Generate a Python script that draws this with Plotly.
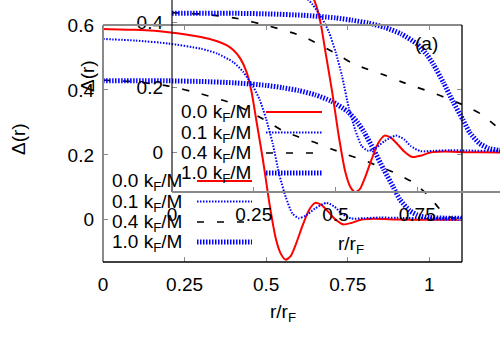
import plotly.graph_objects as go

# ---------------- data ----------------
r_red = [0, 0.1, 0.2, 0.3, 0.35, 0.38, 0.40, 0.42, 0.44, 0.455, 0.47, 0.49, 0.51, 0.53, 0.545,
         0.56, 0.575, 0.59, 0.61, 0.63, 0.65, 0.67, 0.69, 0.71, 0.735, 0.76, 0.79, 0.83, 0.9, 1.0, 1.1]
d_red = [0.588, 0.585, 0.578, 0.563, 0.55, 0.537, 0.522, 0.498, 0.455, 0.395, 0.305, 0.185, 0.05, -0.06, -0.105,
         -0.123, -0.112, -0.078, -0.022, 0.028, 0.052, 0.045, 0.025, 0.003, -0.014, -0.01, 0.0, 0.003, 0.001, 0.0, 0.0]

r_b01 = [0, 0.1, 0.2, 0.3, 0.35, 0.4, 0.43, 0.46, 0.48, 0.5, 0.52, 0.54, 0.56, 0.58, 0.6,
         0.62, 0.65, 0.685, 0.71, 0.73, 0.76, 0.8, 0.85, 0.9, 1.0, 1.1]
d_b01 = [0.557, 0.552, 0.543, 0.527, 0.512, 0.485, 0.455, 0.41, 0.37, 0.31, 0.235, 0.14, 0.07, 0.02, 0.005,
         0.012, 0.035, 0.052, 0.04, 0.02, 0.004, 0.005, 0.007, 0.006, 0.005, 0.005]

r_k04 = [0, 0.1, 0.2, 0.3, 0.4, 0.5, 0.55, 0.6, 0.65, 0.7, 0.75, 0.8, 0.85, 0.9, 0.95, 1.0, 1.03, 1.06, 1.1]
d_k04 = [0.43, 0.425, 0.412, 0.388, 0.357, 0.305, 0.275, 0.255, 0.238, 0.218, 0.2, 0.183, 0.163, 0.142, 0.115,
         0.072, 0.035, 0.01, 0.0]

r_b10 = [0, 0.2, 0.3, 0.4, 0.5, 0.55, 0.6, 0.65, 0.7, 0.75, 0.78, 0.8, 0.83, 0.86, 0.89, 0.91, 0.94, 0.97, 1.0, 1.05, 1.1]
d_b10 = [0.428, 0.428, 0.426, 0.422, 0.414, 0.407, 0.398, 0.385, 0.365, 0.333, 0.3, 0.27, 0.215, 0.155, 0.1,
         0.062, 0.028, 0.012, 0.007, 0.005, 0.005]

labels = ["0.0 k<sub>F</sub>/M", "0.1 k<sub>F</sub>/M", "0.4 k<sub>F</sub>/M", "1.0 k<sub>F</sub>/M"]
x_ticks = [0, 0.25, 0.5, 0.75, 1]
x_ticktext = ["0", "0.25", "0.5", "0.75", "1"]
y_ticks = [0, 0.2, 0.4, 0.6]
y_ticktext = ["0", "0.2", "0.4", "0.6"]

# ---------------- styles ----------------
FONT = "Liberation Sans, Arial, sans-serif"
FS = 19
W, H = 500, 350
styles = [
    dict(color="#ff0000", width=2, dash="solid"),
    dict(color="#0000ff", width=2, dash="1.5px,1.5px"),
    dict(color="#000000", width=1.7, dash="7px,13px"),
    dict(color="#0000ff", width=5, dash="1.5px,1.5px"),
]
series = [(r_red, d_red), (r_b01, d_b01), (r_k04, d_k04), (r_b10, d_b10)]

def px(x):
    return x / W

def py(y):
    return 1 - y / H

fig = go.Figure()
for (xs, ys), st, lab in zip(series, styles, labels):
    fig.add_trace(go.Scatter(x=xs, y=ys, mode="lines", line=dict(st, shape="spline", smoothing=0.6),
                             name=lab, xaxis="x", yaxis="y", showlegend=False))
for (xs, ys), st, lab in zip(series, styles, labels):
    fig.add_trace(go.Scatter(x=xs, y=ys, mode="lines", line=dict(st, shape="spline", smoothing=0.6),
                             name=lab, xaxis="x2", yaxis="y2", showlegend=False))

GREY = "#8a8a8a"
axis_common = dict(showgrid=False, zeroline=False, showline=False, ticks="inside", ticklen=5,
                   tickwidth=1, tickcolor=GREY, automargin=False,
                   tickfont=dict(family=FONT, size=FS, color="black"))

fig.update_layout(
    width=W, height=H, autosize=False,
    margin=dict(l=0, r=0, t=0, b=0, autoexpand=False),
    paper_bgcolor="white", plot_bgcolor="rgba(0,0,0,0)",
    showlegend=False,
    xaxis=dict(axis_common, domain=[px(103), px(462)], range=[0, 1.1], anchor="y",
               tickvals=x_ticks, ticktext=x_ticktext, mirror="ticks", ticklabelstandoff=9),
    yaxis=dict(axis_common, domain=[py(262), py(25)], range=[-0.13, 0.6], anchor="x",
               tickvals=y_ticks, ticktext=y_ticktext, mirror="ticks", ticklabelstandoff=8),
    xaxis2=dict(axis_common, domain=[px(172), 1.0], range=[0, 1.003], anchor="y2",
                tickvals=x_ticks, ticktext=x_ticktext, ticklabelstandoff=9),
    yaxis2=dict(axis_common, domain=[py(192), 1.0], range=[-0.1215, 0.469], anchor="x2",
                tickvals=y_ticks, ticktext=y_ticktext, ticklabelstandoff=8),
)

shapes = []
def seg(x0, y0, x1, y1, color, width, dash="solid"):
    shapes.append(dict(type="line", xref="paper", yref="paper", x0=px(x0), y0=py(y0), x1=px(x1), y1=py(y1),
                       line=dict(color=color, width=width, dash=dash), layer="above"))

# main frame
seg(103, 25, 103, 262, GREY, 2)
seg(103, 25, 462, 25, GREY, 2)
seg(462, 25, 462, 262, "black", 1.3)
seg(103, 262, 462, 262, "black", 1.3)
# inset frame
seg(172, 0, 172, 192, "black", 1.1)
seg(172, 192, 500, 192, GREY, 2)

annotations = []
def text(x, y, s, xanchor="center", angle=0, size=FS):
    annotations.append(dict(x=px(x), y=py(y), xref="paper", yref="paper", text=s, showarrow=False,
                            xanchor=xanchor, yanchor="middle", textangle=angle,
                            font=dict(family=FONT, size=size, color="black")))

# legends (text on the left, sample on the right)
main_rows = [181, 201.5, 222, 242]
inset_rows = [112, 132.5, 153, 173]
for lab, st, yy in zip(labels, styles, main_rows):
    text(184, yy + 1, lab, xanchor="right")
    seg(197, yy, 252, yy, st["color"], st["width"], st["dash"])
for lab, st, yy in zip(labels, styles, inset_rows):
    text(253, yy + 1, lab, xanchor="right")
    seg(266, yy, 322, yy, st["color"], st["width"], st["dash"])

# axis titles and label
text(18, 139, "Δ(r)", angle=-90)
text(88, 76, "Δ(r)", angle=-90)
text(283, 313, "r/r<sub>F</sub>")
text(351, 245, "r/r<sub>F</sub>")
text(426, 44, "(a)")

fig.update_layout(shapes=shapes, annotations=annotations)
fig.write_html("out.html", config={"displayModeBar": False, "staticPlot": True},
               post_script="document.body.style.margin='0px';document.body.style.overflow='hidden';")
